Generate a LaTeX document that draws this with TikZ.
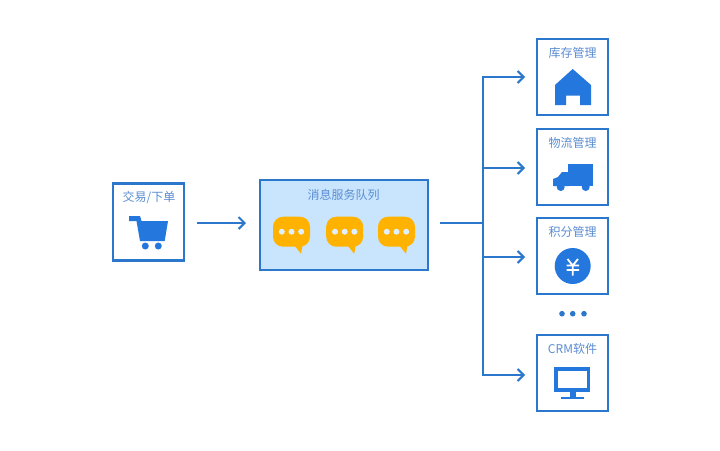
\documentclass[tikz,border=0pt]{standalone}
\usepackage{fontspec}
\setmainfont{Noto Sans CJK SC}
\usetikzlibrary{arrows.meta}
\definecolor{blue1}{HTML}{2A77CC}
\definecolor{blue2}{HTML}{2477DC}
\definecolor{txt}{HTML}{5A8DD2}
\definecolor{qfill}{HTML}{C9E5FD}
\definecolor{amber}{HTML}{FFB300}
\tikzset{
  card/.style={draw=blue1,line width=2.2pt,fill=white,minimum width=71pt,minimum height=76pt,inner sep=0pt},
  queuebox/.style={draw=blue1,line width=2.2pt,fill=qfill,minimum width=168pt,minimum height=90pt,inner sep=0pt},
  lbl/.style={text=txt,font=\fontsize{12}{14}\selectfont,inner sep=0pt},
  link/.style={draw=blue1,line width=2pt},
  arrowlink/.style={link,-{Straight Barb[length=6pt,width=12pt,line width=2pt]}},
  icon/.style={fill=blue2,draw=none},
  bub/.style={fill=amber,draw=none},
  bubdot/.style={fill=qfill!60!white,draw=none}
}
\newcommand{\bubble}[1]{%
  \begin{scope}[shift={(#1,231.7)}]
    \fill[bub,rounded corners=10pt] (-18.5,-15) rectangle (18.5,15);
    \fill[bub] (3,14) -- (11,14) -- (9.5,22) -- cycle;
    \fill[bubdot] (-9.7,0) circle (3pt) (0,0) circle (3pt) (9.7,0) circle (3pt);
  \end{scope}}
\begin{document}
\begin{tikzpicture}[x=1pt,y=-1pt]
\useasboundingbox (0,0) rectangle (720,450);
\fill[white] (0,0) rectangle (720,450);
% boxes
\node[card,minimum height=77pt] (order) at (148.4,221.9) {};
\node[queuebox] (queue) at (344,225) {};
\node[card] (stock) at (572.4,77) {};
\node[card] (logi) at (572.4,167) {};
\node[card] (points) at (572.4,256) {};
\node[card] (crm) at (572.4,373) {};
% labels
\node[lbl] (t0) at (149,197.3) {交易/下单};
\node[lbl] (t1) at (343.5,195.3) {消息服务队列};
\node[lbl] (t2) at (572.5,53.3) {库存管理};
\node[lbl] (t3) at (572.5,143.3) {物流管理};
\node[lbl] (t4) at (572.5,232.3) {积分管理};
\node[lbl] (t5) at (572.5,349.3) {CRM软件};
% connectors
\coordinate (trunk) at (483,223);
\coordinate (queueout) at (440,223);
\coordinate (orderout) at (197,223);
\coordinate (queuein) at (246,223);
\coordinate (a1) at (525,77);
\coordinate (a2) at (525,168);
\coordinate (a3) at (525,257);
\coordinate (a4) at (525,375);
\draw[arrowlink] (orderout) -- (queuein);
\draw[link] (queueout) -- (trunk);
\draw[arrowlink] (trunk) |- (a1);
\draw[arrowlink] (trunk) |- (a2);
\draw[arrowlink] (trunk) |- (a3);
\draw[arrowlink] (trunk) |- (a4);
% cart
\fill[icon] (129,216) -- (140,216) -- (141.5,221) -- (168,221) -- (164.7,241) -- (140,241) -- (136.5,221) -- (129,221) -- cycle;
\fill[icon] (145.3,246) circle (3.5pt) (158.3,246) circle (3.5pt);
% bubbles
\bubble{291.5}
\bubble{344.7}
\bubble{396.5}
% house
\fill[icon] (572.7,69) -- (591,85) -- (591,105) -- (580,105) -- (580,95.5) -- (566,95.5) -- (566,105) -- (555,105) -- (555,85) -- cycle;
% truck
\fill[icon] (568,164) rectangle (593,186);
\fill[icon] (553,186) -- (553,179) -- (558,177) -- (562,172) -- (569,172) -- (569,186) -- cycle;
\fill[icon] (560.7,187) circle (4pt) (585.7,187) circle (4pt);
% yen coin
\fill[icon] (572.7,266) circle (18pt);
\draw[white,line width=1.8pt] (567.5,259) -- (572.7,265.5) -- (578,259) (572.7,265.5) -- (572.7,275.5) (566.5,265.5) -- (579,265.5) (566.5,270) -- (579,270);
% dots
\fill[blue1] (562,313.7) circle (2.8pt) (572.7,313.7) circle (2.8pt) (584,313.7) circle (2.8pt);
% monitor
\fill[icon] (554,367) rectangle (590,392);
\fill[white] (557.5,370.7) rectangle (586.5,387.7);
\fill[icon] (570,392) rectangle (576,397);
\fill[icon] (560.7,396.7) rectangle (584,399.2);
\end{tikzpicture}
\end{document}
